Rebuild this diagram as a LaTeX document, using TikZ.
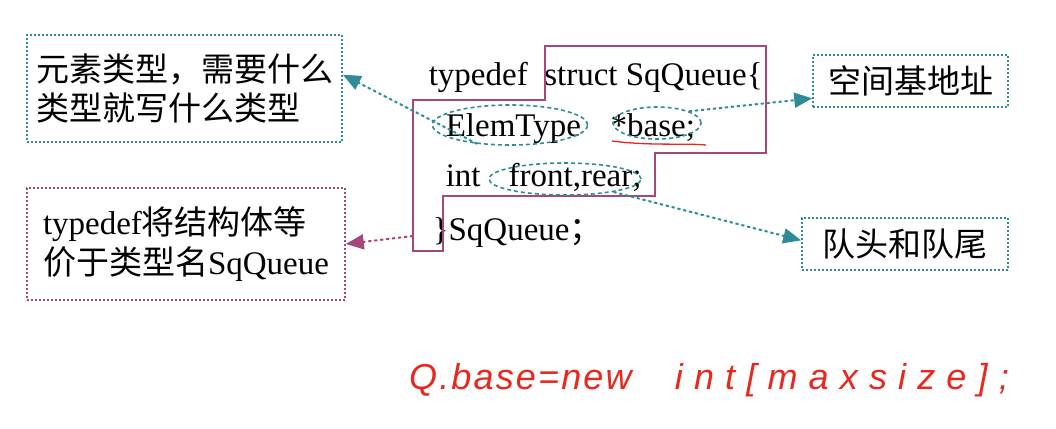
\documentclass[tikz,border=0pt]{standalone}
\usepackage{fontspec}
\usetikzlibrary{arrows.meta,shapes.geometric}
\setmainfont{Liberation Serif}
\newfontfamily\cjk{Noto Sans CJK SC}
\newfontfamily\hand[LetterSpace=6]{Liberation Sans}
\newfontfamily\handwide[LetterSpace=31]{Liberation Sans}
\definecolor{noteteal}{HTML}{2E8C98}
\definecolor{notepurple}{HTML}{A4487A}
\definecolor{inkred}{HTML}{E8271E}

\begin{document}
\begin{tikzpicture}[
  x=1pt, y=-1pt,
  >={Triangle[length=18pt,width=15pt]},
  line width=1.6pt,
  tealbox/.style={draw=noteteal, dash pattern=on 2pt off 2pt, align=left, inner sep=3pt, font=\fontsize{33}{39}\selectfont},
  purplebox/.style={draw=notepurple, dash pattern=on 2pt off 2pt, align=left, inner sep=3pt, font=\fontsize{33}{40}\selectfont},
  code/.style={anchor=base west, inner sep=0pt, font=\fontsize{33}{39}\selectfont},
  loop/.style={ellipse, draw=noteteal, dash pattern=on 4pt off 3pt, inner sep=0pt},
  link/.style={->, draw=noteteal, fill=noteteal, dash pattern=on 3pt off 3pt, line width=2pt},
  plink/.style={->, draw=notepurple, fill=notepurple, dash pattern=on 3pt off 3pt, line width=2pt}
]
  \useasboundingbox (0,0) rectangle (1056,428);

  \node[tealbox, minimum width=315pt, minimum height=107pt] (elemnote) at (184.5,88.5)
    {\cjk 元素类型，需要什么\\\cjk 类型就写什么类型};
  \node[purplebox, minimum width=318pt, minimum height=112pt] (namenote) at (186,244)
    {typedef{\cjk 将结构体等}\\{\cjk 价于类型名}SqQueue};
  \node[tealbox, minimum width=195pt, minimum height=52pt, align=center] (basenote) at (910.5,81)
    {\cjk 空间基地址};
  \node[tealbox, minimum width=206pt, minimum height=52pt, align=center] (ptrnote) at (905,244)
    {\cjk 队头和队尾};

  \node[code] (line1) at (428,85) {typedef\hspace{0.5em}struct SqQueue\{};
  \node[code] (line2) at (445,136) {ElemType\hspace{0.9em}*base;};
  \node[code] (line3) at (445,186) {int\hspace{0.85em}front,rear;};
  \node[code] (line4) at (432,240) {\}SqQueue{\cjk ；}};

  \draw[notepurple] (545,46) -- (766,46) -- (766,153) -- (655,153) -- (655,196)
    -- (443,196) -- (443,251) -- (413,251) -- (413,100) -- (545,100) -- cycle;

  \node[loop, minimum width=155pt, minimum height=40pt] (elemloop) at (510,125) {};
  \node[loop, minimum width=88pt, minimum height=32pt] (baseloop) at (657,123) {};
  \node[loop, minimum width=152pt, minimum height=32pt] (ptrloop) at (565,179) {};
  \coordinate (tail) at (413,236);

  \draw[inkred, line width=1.3pt] (612,141) .. controls (650,146) and (685,143) .. (706,145);

  \draw[link] (elemloop.210) -- (elemnote.5);
  \draw[link] (baseloop.20) -- (basenote.190);
  \draw[link] (ptrloop.345) -- (ptrnote.178);
  \draw[plink] (tail) -- (namenote.east);

  \node[anchor=west, text=inkred, font=\fontsize{36}{42}\selectfont] (newline) at (405,380)
    {{\hand\itshape Q.base=new}\hspace{1.2em}{\handwide\itshape int[maxsize];}};
\end{tikzpicture}
\end{document}
